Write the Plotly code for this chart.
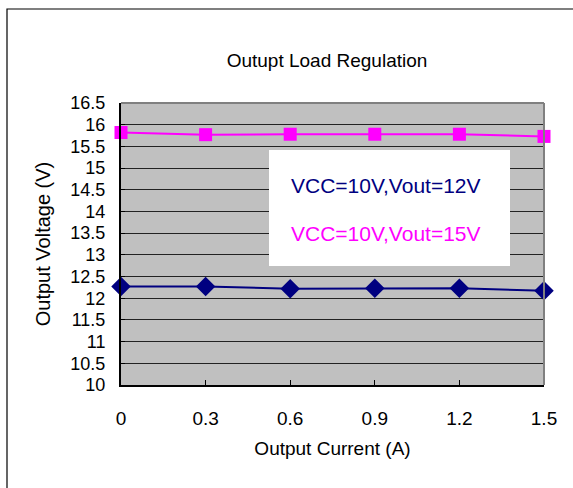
import plotly.graph_objects as go

current = [0, 0.3, 0.6, 0.9, 1.2, 1.5]
vout12 = [12.27, 12.27, 12.22, 12.23, 12.23, 12.17]
vout15 = [15.82, 15.77, 15.78, 15.78, 15.78, 15.73]
names = ["VCC=10V,Vout=12V", "VCC=10V,Vout=15V"]
colors = ["#000080", "#FF00FF"]
x_ticks = [0, 0.3, 0.6, 0.9, 1.2, 1.5]
y_ticks = [10, 10.5, 11, 11.5, 12, 12.5, 13, 13.5, 14, 14.5, 15, 15.5, 16, 16.5]

FONT = "Liberation Sans, Arial, sans-serif"

fig = go.Figure()
fig.add_trace(go.Scatter(x=current, y=vout12, mode="lines+markers", name=names[0],
                         line=dict(color=colors[0], width=2),
                         marker=dict(symbol="diamond", size=15, color=colors[0]),
                         cliponaxis=False))
fig.add_trace(go.Scatter(x=current, y=vout15, mode="lines+markers", name=names[1],
                         line=dict(color=colors[1], width=2),
                         marker=dict(symbol="square", size=13, color=colors[1]),
                         cliponaxis=False))

W, H = 573, 488
L, R, T, B = 121, 29, 103, 103
pw, ph = W - L - R, H - T - B

def px(x):
    return (x - L) / pw

def py(y):
    return 1 - (y - T) / ph

shapes = [
    dict(type="rect", xref="paper", yref="paper", x0=px(7), x1=px(590), y0=py(505), y1=py(9),
         line=dict(color="#000000", width=1.2), layer="below"),
    dict(type="rect", xref="paper", yref="paper", x0=px(269), x1=px(510), y0=py(266), y1=py(150),
         fillcolor="white", line=dict(width=0), layer="above"),
    dict(type="line", xref="paper", yref="paper", x0=0, x1=1, y0=1, y1=1,
         line=dict(color="#808080", width=2)),
    dict(type="line", xref="paper", yref="paper", x0=1, x1=1, y0=0, y1=1,
         line=dict(color="#808080", width=2)),
]

annotations = [
    dict(text=names[0], xref="paper", yref="paper", x=px(289), y=py(185), xanchor="left",
         yanchor="middle", showarrow=False, font=dict(family=FONT, size=21, color=colors[0])),
    dict(text=names[1], xref="paper", yref="paper", x=px(289), y=py(233), xanchor="left",
         yanchor="middle", showarrow=False, font=dict(family=FONT, size=21, color=colors[1])),
]

fig.update_layout(
    width=W, height=H,
    margin=dict(l=L, r=R, t=T, b=B),
    paper_bgcolor="white",
    plot_bgcolor="#C0C0C0",
    showlegend=False,
    font=dict(family=FONT, size=18, color="#000000"),
    title=dict(text="Outupt Load Regulation", x=327 / W, xanchor="center",
               y=1 - 60 / H, yanchor="middle", font=dict(family=FONT, size=19)),
    shapes=shapes,
    annotations=annotations,
)

fig.update_xaxes(range=[0, 1.5], tickvals=x_ticks, ticktext=[str(v) for v in x_ticks],
                 showgrid=False, zeroline=False, showline=True, linecolor="#000000", linewidth=2,
                 ticks="inside", ticklen=5, tickcolor="#000000", ticklabelstandoff=15,
                 title=dict(text="Output Current (A)", standoff=14, font=dict(size=19)),
                 tickfont=dict(size=19))
fig.update_yaxes(range=[10, 16.5], tickvals=y_ticks, ticktext=[f"{v:g}" for v in y_ticks],
                 showgrid=True, gridcolor="#222222", gridwidth=1, zeroline=False,
                 showline=True, linecolor="#000000", linewidth=2,
                 ticks="inside", ticklen=4, tickcolor="#000000", ticklabelstandoff=10,
                 title=dict(text="Output Voltage (V)", standoff=14, font=dict(size=20)),
                 tickfont=dict(size=18))

fig.write_html("out.html", config={"displayModeBar": False},
               post_script="document.body.style.margin='0';document.body.style.padding='0';")
